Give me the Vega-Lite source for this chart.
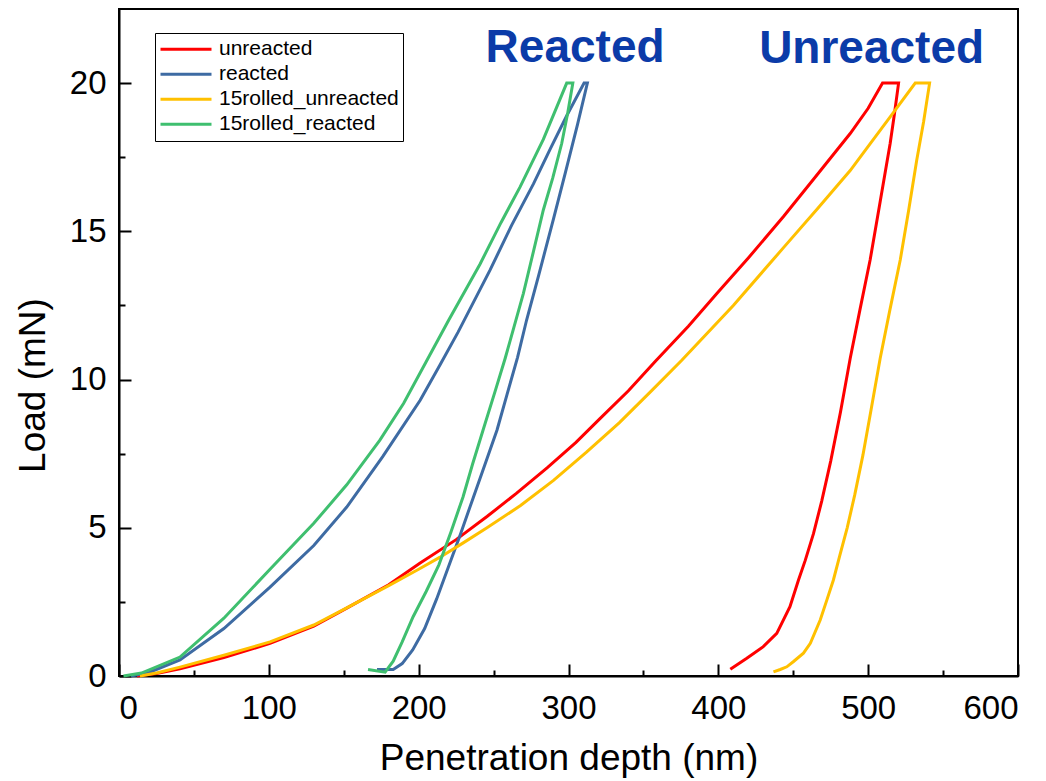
{
  "$schema": "https://vega.github.io/schema/vega-lite/v6.json",
  "width": 899,
  "height": 667,
  "autosize": {"type": "none"},
  "padding": {"left": 119, "top": 9, "right": 28, "bottom": 105},
  "background": "white",
  "config": {
    "view": {"stroke": "black", "strokeWidth": 2},
    "font": "Liberation Sans",
    "axis": {
      "grid": false,
      "domainColor": "black",
      "domainWidth": 2,
      "labelFont": "Liberation Sans",
      "labelColor": "black",
      "labelFontSize": 33,
      "titleFont": "Liberation Sans",
      "titleFontWeight": "normal",
      "titleColor": "black",
      "titleFontSize": 37
    }
  },
  "datasets": {
    "curves": [
      {"series": "unreacted", "i": 1, "depth": 12, "load": 0},
      {"series": "unreacted", "i": 2, "depth": 25, "load": 0.08},
      {"series": "unreacted", "i": 3, "depth": 40.7, "load": 0.24},
      {"series": "unreacted", "i": 4, "depth": 70, "load": 0.62},
      {"series": "unreacted", "i": 5, "depth": 100.8, "load": 1.1},
      {"series": "unreacted", "i": 6, "depth": 130, "load": 1.68},
      {"series": "unreacted", "i": 7, "depth": 152, "load": 2.29},
      {"series": "unreacted", "i": 8, "depth": 180, "load": 3.08},
      {"series": "unreacted", "i": 9, "depth": 201, "load": 3.81},
      {"series": "unreacted", "i": 10, "depth": 225, "load": 4.6},
      {"series": "unreacted", "i": 11, "depth": 245.6, "load": 5.38},
      {"series": "unreacted", "i": 12, "depth": 265, "load": 6.15},
      {"series": "unreacted", "i": 13, "depth": 285.7, "load": 7.02},
      {"series": "unreacted", "i": 14, "depth": 305, "load": 7.88},
      {"series": "unreacted", "i": 15, "depth": 321, "load": 8.68},
      {"series": "unreacted", "i": 16, "depth": 340, "load": 9.62},
      {"series": "unreacted", "i": 17, "depth": 358, "load": 10.62},
      {"series": "unreacted", "i": 18, "depth": 380, "load": 11.8},
      {"series": "unreacted", "i": 19, "depth": 399, "load": 12.9},
      {"series": "unreacted", "i": 20, "depth": 420, "load": 14.1},
      {"series": "unreacted", "i": 21, "depth": 443.5, "load": 15.5},
      {"series": "unreacted", "i": 22, "depth": 465, "load": 16.85},
      {"series": "unreacted", "i": 23, "depth": 488, "load": 18.3},
      {"series": "unreacted", "i": 24, "depth": 500, "load": 19.15},
      {"series": "unreacted", "i": 25, "depth": 509.6, "load": 20},
      {"series": "unreacted", "i": 26, "depth": 520.3, "load": 20},
      {"series": "unreacted", "i": 27, "depth": 517.5, "load": 18.95},
      {"series": "unreacted", "i": 28, "depth": 514.7, "load": 17.97},
      {"series": "unreacted", "i": 29, "depth": 508, "load": 16.0},
      {"series": "unreacted", "i": 30, "depth": 501.3, "load": 14.03},
      {"series": "unreacted", "i": 31, "depth": 494.5, "load": 12.35},
      {"series": "unreacted", "i": 32, "depth": 488, "load": 10.71},
      {"series": "unreacted", "i": 33, "depth": 481.5, "load": 8.9},
      {"series": "unreacted", "i": 34, "depth": 475, "load": 7.25},
      {"series": "unreacted", "i": 35, "depth": 469, "load": 5.9},
      {"series": "unreacted", "i": 36, "depth": 463.5, "load": 4.8},
      {"series": "unreacted", "i": 37, "depth": 458, "load": 3.9},
      {"series": "unreacted", "i": 38, "depth": 453.5, "load": 3.24},
      {"series": "unreacted", "i": 39, "depth": 447.8, "load": 2.34},
      {"series": "unreacted", "i": 40, "depth": 439, "load": 1.44},
      {"series": "unreacted", "i": 41, "depth": 430, "load": 0.99},
      {"series": "unreacted", "i": 42, "depth": 419, "load": 0.6},
      {"series": "unreacted", "i": 43, "depth": 408, "load": 0.23},

      {"series": "reacted", "i": 1, "depth": 8, "load": 0},
      {"series": "reacted", "i": 2, "depth": 20, "load": 0.12},
      {"series": "reacted", "i": 3, "depth": 40.7, "load": 0.54},
      {"series": "reacted", "i": 4, "depth": 70, "load": 1.6},
      {"series": "reacted", "i": 5, "depth": 100.8, "load": 3.0},
      {"series": "reacted", "i": 6, "depth": 130, "load": 4.4},
      {"series": "reacted", "i": 7, "depth": 152, "load": 5.7},
      {"series": "reacted", "i": 8, "depth": 176, "load": 7.4},
      {"series": "reacted", "i": 9, "depth": 201, "load": 9.3},
      {"series": "reacted", "i": 10, "depth": 214.3, "load": 10.5},
      {"series": "reacted", "i": 11, "depth": 226.3, "load": 11.6},
      {"series": "reacted", "i": 12, "depth": 247.7, "load": 13.7},
      {"series": "reacted", "i": 13, "depth": 262, "load": 15.2},
      {"series": "reacted", "i": 14, "depth": 276.6, "load": 16.6},
      {"series": "reacted", "i": 15, "depth": 288, "load": 17.8},
      {"series": "reacted", "i": 16, "depth": 298.8, "load": 18.9},
      {"series": "reacted", "i": 17, "depth": 310.4, "load": 20},
      {"series": "reacted", "i": 18, "depth": 312.6, "load": 20},
      {"series": "reacted", "i": 19, "depth": 306, "load": 18.6},
      {"series": "reacted", "i": 20, "depth": 298, "load": 17.0},
      {"series": "reacted", "i": 21, "depth": 289.9, "load": 15.4},
      {"series": "reacted", "i": 22, "depth": 280, "load": 13.5},
      {"series": "reacted", "i": 23, "depth": 272, "load": 12.0},
      {"series": "reacted", "i": 24, "depth": 266, "load": 10.75},
      {"series": "reacted", "i": 25, "depth": 259, "load": 9.5},
      {"series": "reacted", "i": 26, "depth": 252.3, "load": 8.3},
      {"series": "reacted", "i": 27, "depth": 244, "load": 7.1},
      {"series": "reacted", "i": 28, "depth": 236.3, "load": 6.0},
      {"series": "reacted", "i": 29, "depth": 228, "load": 4.8},
      {"series": "reacted", "i": 30, "depth": 219.6, "load": 3.64},
      {"series": "reacted", "i": 31, "depth": 212, "load": 2.6},
      {"series": "reacted", "i": 32, "depth": 204, "load": 1.6},
      {"series": "reacted", "i": 33, "depth": 196, "load": 0.88},
      {"series": "reacted", "i": 34, "depth": 189, "load": 0.42},
      {"series": "reacted", "i": 35, "depth": 183, "load": 0.22},
      {"series": "reacted", "i": 36, "depth": 172.2, "load": 0.22},

      {"series": "15rolled_unreacted", "i": 1, "depth": 14, "load": 0},
      {"series": "15rolled_unreacted", "i": 2, "depth": 25, "load": 0.1},
      {"series": "15rolled_unreacted", "i": 3, "depth": 40.7, "load": 0.3},
      {"series": "15rolled_unreacted", "i": 4, "depth": 70, "load": 0.7},
      {"series": "15rolled_unreacted", "i": 5, "depth": 100.8, "load": 1.15},
      {"series": "15rolled_unreacted", "i": 6, "depth": 130, "load": 1.72},
      {"series": "15rolled_unreacted", "i": 7, "depth": 152, "load": 2.3},
      {"series": "15rolled_unreacted", "i": 8, "depth": 180, "load": 3.05},
      {"series": "15rolled_unreacted", "i": 9, "depth": 200, "load": 3.6},
      {"series": "15rolled_unreacted", "i": 10, "depth": 214, "load": 4.0},
      {"series": "15rolled_unreacted", "i": 11, "depth": 230, "load": 4.5},
      {"series": "15rolled_unreacted", "i": 12, "depth": 245.6, "load": 5.0},
      {"series": "15rolled_unreacted", "i": 13, "depth": 268, "load": 5.75},
      {"series": "15rolled_unreacted", "i": 14, "depth": 290, "load": 6.6},
      {"series": "15rolled_unreacted", "i": 15, "depth": 312, "load": 7.55},
      {"series": "15rolled_unreacted", "i": 16, "depth": 334, "load": 8.55},
      {"series": "15rolled_unreacted", "i": 17, "depth": 355, "load": 9.6},
      {"series": "15rolled_unreacted", "i": 18, "depth": 375.6, "load": 10.65},
      {"series": "15rolled_unreacted", "i": 19, "depth": 410, "load": 12.5},
      {"series": "15rolled_unreacted", "i": 20, "depth": 443.5, "load": 14.45},
      {"series": "15rolled_unreacted", "i": 21, "depth": 466, "load": 15.75},
      {"series": "15rolled_unreacted", "i": 22, "depth": 488, "load": 17.05},
      {"series": "15rolled_unreacted", "i": 23, "depth": 502, "load": 18.0},
      {"series": "15rolled_unreacted", "i": 24, "depth": 514.7, "load": 18.86},
      {"series": "15rolled_unreacted", "i": 25, "depth": 531.4, "load": 20},
      {"series": "15rolled_unreacted", "i": 26, "depth": 541, "load": 20},
      {"series": "15rolled_unreacted", "i": 27, "depth": 537, "load": 18.7},
      {"series": "15rolled_unreacted", "i": 28, "depth": 532.4, "load": 17.4},
      {"series": "15rolled_unreacted", "i": 29, "depth": 527, "load": 15.7},
      {"series": "15rolled_unreacted", "i": 30, "depth": 521.4, "load": 14.03},
      {"series": "15rolled_unreacted", "i": 31, "depth": 514.5, "load": 12.35},
      {"series": "15rolled_unreacted", "i": 32, "depth": 508, "load": 10.71},
      {"series": "15rolled_unreacted", "i": 33, "depth": 502, "load": 9.0},
      {"series": "15rolled_unreacted", "i": 34, "depth": 496.5, "load": 7.45},
      {"series": "15rolled_unreacted", "i": 35, "depth": 491, "load": 6.1},
      {"series": "15rolled_unreacted", "i": 36, "depth": 486, "load": 5.0},
      {"series": "15rolled_unreacted", "i": 37, "depth": 481, "load": 4.05},
      {"series": "15rolled_unreacted", "i": 38, "depth": 476.8, "load": 3.24},
      {"series": "15rolled_unreacted", "i": 39, "depth": 472.4, "load": 2.56},
      {"series": "15rolled_unreacted", "i": 40, "depth": 468, "load": 1.89},
      {"series": "15rolled_unreacted", "i": 41, "depth": 461.4, "load": 1.1},
      {"series": "15rolled_unreacted", "i": 42, "depth": 456.8, "load": 0.77},
      {"series": "15rolled_unreacted", "i": 43, "depth": 450, "load": 0.48},
      {"series": "15rolled_unreacted", "i": 44, "depth": 445.7, "load": 0.31},
      {"series": "15rolled_unreacted", "i": 45, "depth": 441.3, "load": 0.22},
      {"series": "15rolled_unreacted", "i": 46, "depth": 436.8, "load": 0.14},

      {"series": "15rolled_reacted", "i": 1, "depth": 3, "load": 0},
      {"series": "15rolled_reacted", "i": 2, "depth": 15, "load": 0.1},
      {"series": "15rolled_reacted", "i": 3, "depth": 40.7, "load": 0.64},
      {"series": "15rolled_reacted", "i": 4, "depth": 70, "load": 1.95},
      {"series": "15rolled_reacted", "i": 5, "depth": 100.8, "load": 3.6},
      {"series": "15rolled_reacted", "i": 6, "depth": 130, "load": 5.15},
      {"series": "15rolled_reacted", "i": 7, "depth": 152, "load": 6.45},
      {"series": "15rolled_reacted", "i": 8, "depth": 174, "load": 7.95},
      {"series": "15rolled_reacted", "i": 9, "depth": 190, "load": 9.2},
      {"series": "15rolled_reacted", "i": 10, "depth": 205, "load": 10.6},
      {"series": "15rolled_reacted", "i": 11, "depth": 220, "load": 12.0},
      {"series": "15rolled_reacted", "i": 12, "depth": 241, "load": 13.9},
      {"series": "15rolled_reacted", "i": 13, "depth": 255, "load": 15.3},
      {"series": "15rolled_reacted", "i": 14, "depth": 267.7, "load": 16.5},
      {"series": "15rolled_reacted", "i": 15, "depth": 283.2, "load": 18.1},
      {"series": "15rolled_reacted", "i": 16, "depth": 298.8, "load": 20},
      {"series": "15rolled_reacted", "i": 17, "depth": 302.9, "load": 20},
      {"series": "15rolled_reacted", "i": 18, "depth": 299.5, "load": 19.0},
      {"series": "15rolled_reacted", "i": 19, "depth": 295.5, "load": 17.97},
      {"series": "15rolled_reacted", "i": 20, "depth": 289.5, "load": 16.8},
      {"series": "15rolled_reacted", "i": 21, "depth": 283.2, "load": 15.72},
      {"series": "15rolled_reacted", "i": 22, "depth": 276.5, "load": 14.3},
      {"series": "15rolled_reacted", "i": 23, "depth": 269.9, "load": 12.91},
      {"series": "15rolled_reacted", "i": 24, "depth": 263.5, "load": 11.75},
      {"series": "15rolled_reacted", "i": 25, "depth": 257.7, "load": 10.71},
      {"series": "15rolled_reacted", "i": 26, "depth": 251, "load": 9.6},
      {"series": "15rolled_reacted", "i": 27, "depth": 243, "load": 8.3},
      {"series": "15rolled_reacted", "i": 28, "depth": 236, "load": 7.15},
      {"series": "15rolled_reacted", "i": 29, "depth": 229.6, "load": 6.04},
      {"series": "15rolled_reacted", "i": 30, "depth": 221.5, "load": 4.85},
      {"series": "15rolled_reacted", "i": 31, "depth": 213.5, "load": 3.75},
      {"series": "15rolled_reacted", "i": 32, "depth": 205, "load": 2.85},
      {"series": "15rolled_reacted", "i": 33, "depth": 196.3, "load": 2.0},
      {"series": "15rolled_reacted", "i": 34, "depth": 189, "load": 1.15},
      {"series": "15rolled_reacted", "i": 35, "depth": 183, "load": 0.5},
      {"series": "15rolled_reacted", "i": 36, "depth": 177.6, "load": 0.13},
      {"series": "15rolled_reacted", "i": 37, "depth": 166.2, "load": 0.22}
    ],
    "notes": [
      {"label": "Reacted", "depth": 304.4, "load": 20.72},
      {"label": "Unreacted", "depth": 502.3, "load": 20.68}
    ]
  },
  "layer": [
    {
      "data": {"name": "curves"},
      "mark": {"type": "line", "strokeWidth": 3, "interpolate": "linear"},
      "encoding": {
        "x": {
          "field": "depth", "type": "quantitative",
          "scale": {"domain": [0, 600], "nice": false, "zero": false},
          "axis": {
            "title": "Penetration depth (nm)",
            "values": [0, 100, 200, 300, 400, 500, 600],
            "ticks": false,
            "grid": true,
            "gridColor": "black",
            "gridWidth": 2,
            "gridOpacity": 1,
            "gridDash": [0, 655, 12, 1000],
            "labelPadding": 16,
            "titlePadding": 15,
            "orient": "bottom"
          }
        },
        "y": {
          "field": "load", "type": "quantitative",
          "scale": {"domain": [0, 22.5], "nice": false, "zero": false},
          "axis": {
            "title": "Load (mN)",
            "values": [0, 5, 10, 15, 20],
            "ticks": false,
            "grid": true,
            "gridColor": "black",
            "gridWidth": 2,
            "gridOpacity": 1,
            "gridDash": [12, 2000],
            "labelPadding": 13,
            "titleX": -67,
            "titleY": 376,
            "titleAngle": -90,
            "titleAlign": "center",
            "titleBaseline": "bottom",
            "orient": "left"
          }
        },
        "color": {
          "field": "series", "type": "nominal",
          "scale": {
            "domain": ["unreacted", "reacted", "15rolled_unreacted", "15rolled_reacted"],
            "range": ["#FF0000", "#3E6BA3", "#FFC000", "#3FBF6F"]
          },
          "legend": {
            "title": null,
            "orient": "none",
            "legendX": 36,
            "legendY": 24,
            "symbolType": "stroke",
            "symbolSize": 2600,
            "symbolStrokeWidth": 3,
            "clipHeight": 24.5,
            "rowPadding": 0,
            "labelFont": "Liberation Sans",
            "labelFontSize": 21,
            "labelLimit": 400,
            "labelColor": "black",
            "labelOffset": 6,
            "padding": 4,
            "strokeColor": "black",
            "fillColor": "white"
          }
        },
        "order": {"field": "i", "type": "quantitative"}
      }
    },
    {
      "data": {"name": "notes"},
      "mark": {"type": "text", "font": "Liberation Sans", "fontWeight": "bold", "fontSize": 46, "color": "#0B3BA8", "align": "center", "baseline": "alphabetic"},
      "encoding": {
        "x": {
          "field": "depth", "type": "quantitative",
          "axis": {
            "title": null, "labels": false, "domain": false,
            "values": [50, 150, 250, 350, 450, 550],
            "ticks": true,
            "tickSize": 6,
            "tickColor": "black",
            "tickWidth": 2,
            "orient": "top",
            "offset": -667
          }
        },
        "y": {
          "field": "load", "type": "quantitative",
          "axis": {
            "title": null, "labels": false, "domain": false,
            "values": [2.5, 7.5, 12.5, 17.5],
            "ticks": true,
            "tickSize": 6,
            "tickColor": "black",
            "tickWidth": 2,
            "orient": "right",
            "offset": -899
          }
        },
        "text": {"field": "label"}
      }
    }
  ],
  "resolve": {"axis": {"x": "independent", "y": "independent"}}
}
